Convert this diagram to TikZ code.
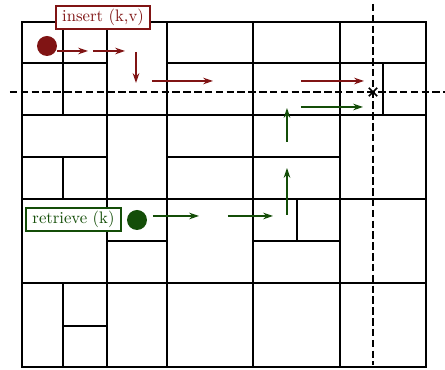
\documentclass[tikz,border=0pt]{standalone}
\usepackage{tikz}
\usetikzlibrary{positioning}
\usetikzlibrary{arrows.meta}
\usetikzlibrary{shapes.misc}

\definecolor{insred}{RGB}{128,20,20}
\definecolor{retgreen}{RGB}{20,78,8}

\begin{document}
\begin{tikzpicture}[x=0.6pt,y=-0.6pt,>={Stealth[length=6pt,width=4pt,inset=2pt]},
    cell/.style={line width=0.9pt},
    cut/.style={line width=0.9pt,dash pattern=on 4.5pt off 2pt},
    dot/.style={circle,fill,inner sep=0pt,minimum size=12pt},
    tag/.style={draw,line width=1.2pt,fill=white,inner xsep=4pt,inner ysep=2pt,
                text height=7.5pt,text depth=2.5pt},
    move/.style={->,line width=0.7pt}]
  \useasboundingbox (0,0) rectangle (445,370);
      % \draw[help lines] (0,0) grid (445,370);

  % cells
  \draw[cell] (22,22) rectangle (426,367);
  \foreach \x in {107,167,253,340}
    \draw[cell] (\x,22) -- (\x,367);
  \foreach \y in {115,199,283}
    \draw[cell] (22,\y) -- (426,\y);
  \draw[cell] (63,22) -- (63,115)   (63,157) -- (63,199)   (63,283) -- (63,367);
  \draw[cell] (22,63) -- (107,63)   (167,63) -- (426,63);
  \draw[cell] (22,157) -- (107,157) (167,157) -- (340,157);
  \draw[cell] (107,241) -- (167,241) (253,241) -- (340,241);
  \draw[cell] (63,326) -- (107,326);
  \draw[cell] (383,63) -- (383,115) (297,199) -- (297,241);

  % splitting lines
  \draw[cut] (10,92) -- (445,92);
  \draw[cut] (373,4) -- (373,365);
  \node[cross out, draw, line width=1pt, minimum size=4pt, inner sep=0pt] (hit) at (373,92) {};

  \node[tag, draw=insred, text=insred]       (insert)   at (103,17.5)  {insert (k,v)};
  \node[tag, draw=retgreen, text=retgreen]   (retrieve) at (73.5,219.5) {retrieve (k)};
  \node[dot, insred]                         (insdot)   at (47,46)  {};
  \node[dot, retgreen]                       (retdot)   at (137,220) {};

  \coordinate (i1a) at (57,51);   \coordinate (i1b) at (88,51);
  \coordinate (i2a) at (93,51);   \coordinate (i2b) at (125,51);
  \coordinate (i3a) at (136,52);  \coordinate (i3b) at (136,83);
  \coordinate (i4a) at (152,81);  \coordinate (i4b) at (213,81);
  \coordinate (i5a) at (301,81);  \coordinate (i5b) at (364,81);

  \coordinate (r1a) at (153,216); \coordinate (r1b) at (199,216);
  \coordinate (r2a) at (228,216); \coordinate (r2b) at (273,216);
  \coordinate (r3a) at (287,215); \coordinate (r3b) at (287,168);
  \coordinate (r4a) at (287,142); \coordinate (r4b) at (287,108);
  \coordinate (r5a) at (301,107); \coordinate (r5b) at (363,107);

  \path[move, insred]   (i1a) edge (i1b)
                        (i2a) edge (i2b)
                        (i3a) edge (i3b)
                        (i4a) edge (i4b)
                        (i5a) edge (i5b);
  \path[move, retgreen] (r1a) edge (r1b)
                        (r2a) edge (r2b)
                        (r3a) edge (r3b)
                        (r4a) edge (r4b)
                        (r5a) edge (r5b);
\end{tikzpicture}
\end{document}
